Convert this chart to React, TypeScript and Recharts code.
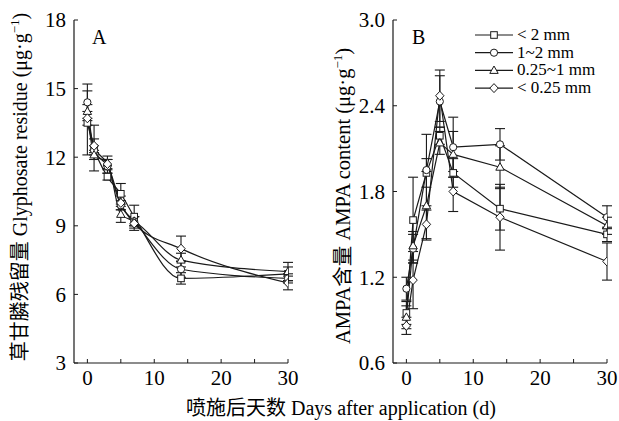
import { LineChart, Line, XAxis, YAxis, ErrorBar } from "recharts";

// sampling days
const days = [0, 1, 3, 5, 7, 14, 30];

// panel A: glyphosate residue (μg/g)
const glySq = [13.5, 12.4, 11.15, 10.4, 9.4, 6.7, 6.9];
const glySqErr = [1.4, 1.0, 0.15, 0.45, 0.5, 0.25, 0.3];
const glyCi = [14.4, 12.3, 11.6, 9.9, 9.2, 7.1, 6.7];
const glyCiErr = [0.8, 0.2, 0.3, 0.2, 0.2, 0.35, 0.2];
const glyTr = [14.0, 12.1, 11.75, 9.5, 9.2, 7.5, 7.0];
const glyTrErr = [0.3, 0.2, 0.3, 0.35, 0.2, 0.3, 0.4];
const glyDi = [13.7, 12.5, 11.7, 10.0, 9.1, 8.0, 6.5];
const glyDiErr = [0.3, 0.3, 0.2, 0.3, 0.3, 0.55, 0.3];

// panel B: AMPA content (μg/g)
const ampaSq = [0.95, 1.6, 1.93, 2.19, 1.93, 1.68, 1.5];
const ampaSqErr = [0.08, 0.3, 0.1, 0.06, 0.1, 0.15, 0.05];
const ampaCi = [1.12, 1.4, 1.95, 2.43, 2.11, 2.13, 1.62];
const ampaCiErr = [0.08, 0.1, 0.25, 0.18, 0.21, 0.11, 0.08];
const ampaTr = [0.92, 1.42, 1.7, 2.14, 2.06, 1.97, 1.56];
const ampaTrErr = [0.08, 0.1, 0.24, 0.08, 0.16, 0.15, 0.06];
const ampaDi = [0.86, 1.18, 1.57, 2.47, 1.8, 1.62, 1.31];
const ampaDiErr = [0.06, 0.2, 0.1, 0.18, 0.14, 0.23, 0.13];

const xTicks = [0, 5, 10, 15, 20, 25, 30];
const glyTicks = [3, 6, 9, 12, 15, 18];
const ampaTicks = [0.6, 1.2, 1.8, 2.4, 3.0];

const series = [
  { key: "sq", name: "< 2 mm", shape: "square" },
  { key: "ci", name: "1~2 mm", shape: "circle" },
  { key: "tr", name: "0.25~1 mm", shape: "triangle" },
  { key: "di", name: "< 0.25 mm", shape: "diamond" },
];

const glyRows = days.map((d, i) => ({
  day: d,
  sq: glySq[i], sqErr: glySqErr[i],
  ci: glyCi[i], ciErr: glyCiErr[i],
  tr: glyTr[i], trErr: glyTrErr[i],
  di: glyDi[i], diErr: glyDiErr[i],
}));

const ampaRows = days.map((d, i) => ({
  day: d,
  sq: ampaSq[i], sqErr: ampaSqErr[i],
  ci: ampaCi[i], ciErr: ampaCiErr[i],
  tr: ampaTr[i], trErr: ampaTrErr[i],
  di: ampaDi[i], diErr: ampaDiErr[i],
}));

const FONT = "'Liberation Serif', 'Noto Sans CJK SC', serif";
const INK = "#1a1a1a";

function Marker({ shape, cx, cy }: { shape: string; cx: number; cy: number }) {
  const p = { fill: "#fff", stroke: INK, strokeWidth: 1 };
  if (shape === "square") return <rect x={cx - 3.3} y={cy - 3.3} width={6.6} height={6.6} {...p} />;
  if (shape === "circle") return <circle cx={cx} cy={cy} r={3.6} {...p} />;
  if (shape === "triangle")
    return <polygon points={`${cx},${cy - 4.4} ${cx - 4.2},${cy + 3} ${cx + 4.2},${cy + 3}`} {...p} />;
  return <polygon points={`${cx},${cy - 4.5} ${cx + 4.2},${cy} ${cx},${cy + 4.5} ${cx - 4.2},${cy}`} {...p} />;
}

const dotFor = (shape: string) => (props: any) => (
  <Marker key={`${shape}-${props.index}`} shape={shape} cx={props.cx} cy={props.cy} />
);

type PanelProps = {
  rows: any[];
  yDomain: [number, number];
  yTicks: number[];
  yFmt: (v: number) => string;
  curve: "monotone" | "linear";
};

function Panel({ rows, yDomain, yTicks, yFmt, curve }: PanelProps) {
  return (
    <LineChart width={300} height={421} data={rows} margin={{ top: 20, right: 12, bottom: 0, left: 0 }}>
      <XAxis
        dataKey="day"
        type="number"
        domain={[-2, 30]}
        ticks={xTicks}
        tickFormatter={(v: number) => (v % 10 === 0 ? String(v) : "")}
        height={58}
        tickSize={-4}
        tickMargin={11}
        axisLine={{ stroke: INK, strokeWidth: 1.2 }}
        tickLine={{ stroke: INK }}
        tick={{ fill: "#000", fontSize: 21, fontFamily: FONT }}
        allowDataOverflow
      />
      <YAxis
        type="number"
        domain={yDomain}
        ticks={yTicks}
        tickFormatter={yFmt}
        width={74}
        tickSize={-4}
        tickMargin={12}
        axisLine={{ stroke: INK, strokeWidth: 1.2 }}
        tickLine={{ stroke: INK }}
        tick={{ fill: "#000", fontSize: 21, fontFamily: FONT }}
        allowDataOverflow
      />
      {series.map((s) => (
        <Line
          key={s.key}
          dataKey={s.key}
          name={s.name}
          type={curve}
          stroke={INK}
          strokeWidth={1.2}
          dot={dotFor(s.shape)}
          activeDot={false}
          isAnimationActive={false}
        >
          <ErrorBar dataKey={`${s.key}Err`} direction="y" width={5} stroke={INK} strokeWidth={1.1} />
        </Line>
      ))}
    </LineChart>
  );
}

export default function App() {
  return (
    <div style={{ position: "absolute", left: 0, top: 0, width: 619, height: 421, background: "#fff" }}>
      <div style={{ position: "absolute", left: 0, top: 0 }}>
        <Panel rows={glyRows} yDomain={[3, 18]} yTicks={glyTicks} yFmt={(v) => String(v)} curve="monotone" />
      </div>
      <div style={{ position: "absolute", left: 319, top: 0 }}>
        <Panel
          rows={ampaRows}
          yDomain={[0.6, 3.0]}
          yTicks={ampaTicks}
          yFmt={(v) => v.toFixed(1)}
          curve="linear"
        />
      </div>
      <svg
        width={619}
        height={421}
        style={{ position: "absolute", left: 0, top: 0, pointerEvents: "none" }}
        fontFamily={FONT}
        fill="#000"
      >
        <text x={92} y={44} fontSize={20}>A</text>
        <text x={412} y={44} fontSize={20}>B</text>
        <g transform="translate(475,0)">
          {series.map((s, i) => {
            const y = 35 + i * 17.7;
            return (
              <g key={s.key}>
                <line x1={0} x2={38} y1={y} y2={y} stroke={INK} strokeWidth={1.2} />
                <Marker shape={s.shape} cx={19} cy={y} />
                <text x={42} y={y + 5} fontSize={17}>
                  {s.name}
                </text>
              </g>
            );
          })}
        </g>
        <text transform="translate(27,187) rotate(-90)" textAnchor="middle" fontSize={20}>
          草甘膦残留量 Glyphosate residue (μg·g<tspan dy={-8} fontSize={13}>−1</tspan>
          <tspan dy={8}>)</tspan>
        </text>
        <text transform="translate(350,196) rotate(-90)" textAnchor="middle" fontSize={20.5}>
          AMPA含量 AMPA content (μg·g<tspan dy={-8} fontSize={13}>−1</tspan>
          <tspan dy={8}>)</tspan>
        </text>
        <text x={341} y={415} textAnchor="middle" fontSize={20}>
          喷施后天数 Days after application (d)
        </text>
      </svg>
    </div>
  );
}
